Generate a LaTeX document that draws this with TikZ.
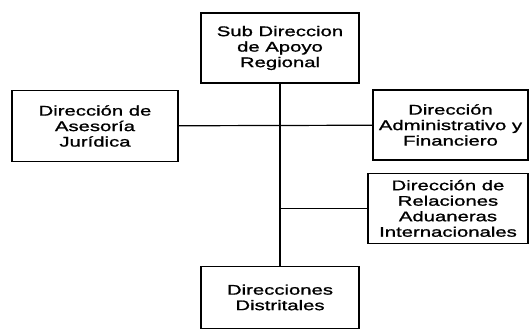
\documentclass[tikz,border=0pt]{standalone}
\usepackage{fontspec}
\setmainfont{Liberation Sans}[FakeStretch=1.45, FakeBold=1.2]
\usetikzlibrary{positioning}

\begin{document}
\begin{tikzpicture}[
    x=1pt, y=-1pt,
    unit/.style={rectangle, draw=black, line width=1.4pt, inner sep=2pt, align=center, font=\fontsize{14}{15.5}\selectfont},
    link/.style={line width=1.2pt},
    trunk/.style={line width=1.8pt}
]
\useasboundingbox (0,0) rectangle (529,329);

% Nodes
\node (subdir) [unit, minimum width=158pt, minimum height=70pt] at (280,48) {Sub Direccion\\de Apoyo\\Regional};

\node (distritales) [unit, minimum width=158pt, minimum height=62pt, below=182pt of subdir] {Direcciones\\Distritales};

\node (asesoria) [unit, minimum width=166pt, minimum height=71pt] at (95,126) {Dirección de\\Asesoría\\Jurídica};

\node (admin) [unit, minimum width=155pt, minimum height=70pt] at (450.5,125) {Dirección\\Administrativo y\\Financiero};

\node (relaciones) [unit, minimum width=160pt, minimum height=70pt, below=12pt of admin, xshift=-2.5pt] {Dirección de\\Relaciones\\Aduaneras\\Internacionales};

% Connectors
\draw [trunk] (subdir) -- (distritales);
\draw [link] (asesoria) -- (admin);
\draw [link] (relaciones.west) -- (relaciones.west -| subdir.south);

\end{tikzpicture}
\end{document}
